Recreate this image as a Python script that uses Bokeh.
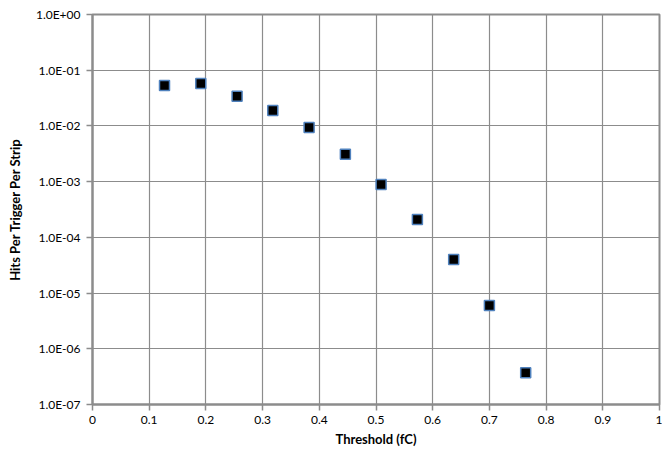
from bokeh.plotting import figure
from bokeh.models import FixedTicker, CustomJSTickFormatter
from bokeh.embed import file_html
from bokeh.resources import INLINE

threshold_fc = [0.127, 0.191, 0.255, 0.318, 0.382, 0.446, 0.509, 0.573, 0.637, 0.700, 0.764]
hits_per_trigger = [0.053, 0.058, 0.034, 0.019, 0.0094, 0.0031, 0.00089, 0.00021, 4.0e-5, 6.0e-6, 3.7e-7]
x_ticks = [0, 0.1, 0.2, 0.3, 0.4, 0.5, 0.6, 0.7, 0.8, 0.9, 1.0]
y_ticks = [1e-7, 1e-6, 1e-5, 1e-4, 1e-3, 1e-2, 1e-1, 1e0]

FONT = "Lato"
GRID = "#8c8c8c"

p = figure(width=662, height=450, y_axis_type="log",
           x_range=(0, 1), y_range=(1e-7, 1),
           output_backend="svg", toolbar_location=None,
           min_border_left=92, min_border_right=3, min_border_top=14, min_border_bottom=46)

p.scatter(threshold_fc, hits_per_trigger, marker="square", size=10,
          fill_color="black", line_color="#4F81BD", line_width=1.5)

p.xaxis.ticker = FixedTicker(ticks=x_ticks)
p.xaxis.major_label_overrides = {0: "0", 1: "1"}
p.yaxis.ticker = FixedTicker(ticks=y_ticks)
p.yaxis.formatter = CustomJSTickFormatter(code="""
const e = Math.round(Math.log10(tick));
const m = tick / Math.pow(10, e);
const s = e < 0 ? '-' : '+';
return m.toFixed(1) + 'E' + s + String(Math.abs(e)).padStart(2, '0');
""")

for ax in (p.xaxis[0], p.yaxis[0]):
    ax.axis_line_color = GRID
    ax.axis_line_width = 2
    ax.major_tick_line_color = GRID
    ax.major_tick_line_width = 1.5
    ax.major_tick_out = 6
    ax.major_tick_in = 0
    ax.minor_tick_line_color = None
    ax.major_label_text_font = FONT
    ax.major_label_text_font_size = "12px"
    ax.major_label_text_color = "black"
    ax.axis_label_text_font = FONT
    ax.axis_label_text_font_size = "13px"
    ax.axis_label_text_font_style = "bold"
    ax.axis_label_text_color = "black"

p.xaxis.axis_label = "Threshold (fC)"
p.yaxis.axis_label = "Hits Per Trigger Per Strip"
p.xaxis.major_label_standoff = 5
p.xaxis.axis_label_standoff = 4
p.yaxis.major_label_standoff = 6
p.yaxis.axis_label_standoff = 10

p.xgrid.ticker = FixedTicker(ticks=x_ticks)
p.ygrid.ticker = FixedTicker(ticks=y_ticks)
p.xgrid.grid_line_color = GRID
p.ygrid.grid_line_color = GRID
p.xgrid.grid_line_width = 1.2
p.ygrid.grid_line_width = 1.2
p.ygrid.minor_grid_line_color = None

p.outline_line_color = GRID
p.outline_line_width = 2
p.background_fill_color = "white"
p.border_fill_color = "white"

open("out.html", "w").write(file_html(p, INLINE))
